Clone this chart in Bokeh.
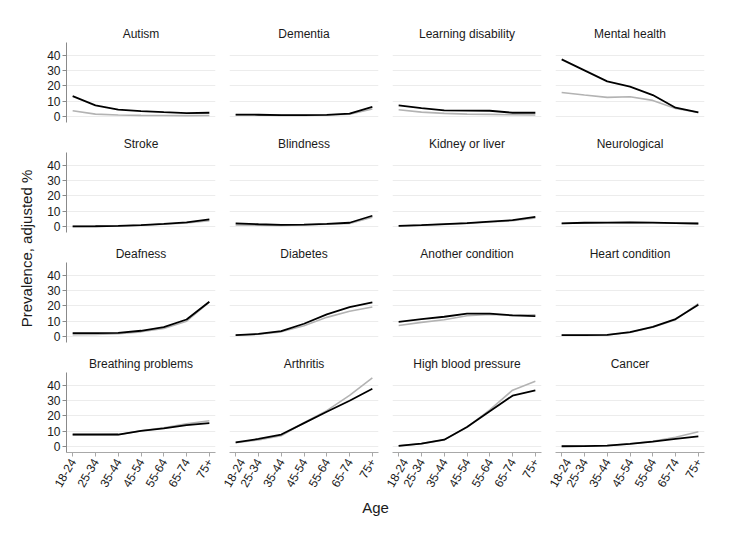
import math
from bokeh.plotting import figure
from bokeh.layouts import gridplot, row, column
from bokeh.models import Range1d, FixedTicker, Grid, Label
from bokeh.embed import file_html
from bokeh.resources import INLINE

ages = ["18-24", "25-34", "35-44", "45-54", "55-64", "65-74", "75+"]
conditions = ["Autism", "Dementia", "Learning disability", "Mental health",
              "Stroke", "Blindness", "Kidney or liver", "Neurological",
              "Deafness", "Diabetes", "Another condition", "Heart condition",
              "Breathing problems", "Arthritis", "High blood pressure", "Cancer"]

# black line
prev_a = [
    [13.3, 7.2, 4.4, 3.5, 2.8, 2.2, 2.4],
    [1.2, 1.1, 0.8, 0.8, 1.0, 1.8, 6.3],
    [7.2, 5.5, 3.9, 3.8, 3.7, 2.4, 2.4],
    [37.4, 30.2, 23.0, 19.5, 14.0, 5.7, 2.6],
    [0.0, 0.1, 0.4, 0.9, 1.7, 2.6, 4.6],
    [2.0, 1.4, 1.0, 1.2, 1.7, 2.4, 7.0],
    [0.4, 0.9, 1.5, 2.1, 3.2, 4.1, 6.3],
    [2.0, 2.4, 2.5, 2.7, 2.5, 2.2, 1.9],
    [2.2, 2.2, 2.3, 3.7, 6.1, 11.1, 22.7],
    [0.9, 1.6, 3.5, 8.3, 14.5, 19.2, 22.3],
    [9.6, 11.4, 12.9, 14.9, 14.9, 13.8, 13.3],
    [0.9, 0.9, 1.0, 2.8, 6.3, 11.4, 20.8],
    [7.8, 7.8, 7.8, 10.2, 11.8, 14.0, 15.3],
    [2.7, 4.9, 7.8, 15.3, 22.7, 30.0, 37.8],
    [0.4, 1.8, 4.4, 12.7, 23.1, 33.3, 36.7],
    [0.1, 0.2, 0.5, 1.6, 3.2, 5.0, 6.6],
]
# grey line
prev_b = [
    [3.7, 1.5, 0.9, 0.7, 0.6, 0.5, 0.6],
    [1.0, 0.9, 0.7, 0.7, 0.9, 1.4, 4.8],
    [4.4, 2.8, 2.0, 1.5, 1.3, 1.1, 0.9],
    [15.7, 14.0, 12.5, 12.9, 10.5, 5.2, 2.6],
    [0.0, 0.1, 0.3, 0.8, 1.4, 2.2, 3.8],
    [1.0, 0.8, 0.7, 0.9, 1.4, 2.0, 6.0],
    [0.3, 0.8, 1.3, 2.0, 2.9, 3.7, 5.5],
    [1.9, 2.3, 2.4, 2.6, 2.4, 2.1, 1.8],
    [1.2, 1.3, 1.7, 3.0, 5.2, 10.0, 22.5],
    [0.8, 1.4, 3.0, 7.0, 12.5, 16.5, 19.3],
    [7.2, 9.2, 10.9, 13.6, 14.4, 13.8, 14.2],
    [0.8, 0.8, 0.9, 2.6, 6.0, 11.0, 21.5],
    [7.6, 7.6, 7.7, 10.3, 12.2, 14.8, 16.8],
    [2.4, 4.3, 7.0, 15.5, 23.5, 33.5, 44.9],
    [0.4, 1.8, 4.3, 12.5, 24.0, 36.9, 42.7],
    [0.1, 0.2, 0.6, 1.7, 3.3, 6.0, 9.6],
]
yticks = [0, 10, 20, 30, 40]

FONT = "Liberation Sans"
xs = list(range(len(ages)))

plots = []
for k, name in enumerate(conditions):
    r, c = divmod(k, 4)
    first_col = c == 0
    last_row = r == 3
    top = 42 if r == 0 else 26
    bottom = 44 if last_row else 4
    w = 184 if first_col else 163
    p = figure(width=w, height=top + 80 + bottom, output_backend="svg", toolbar_location=None,
               x_range=Range1d(-0.27, 6.27), y_range=Range1d(-4, 48.5),
               x_axis_location="below" if last_row else None,
               y_axis_location="left" if first_col else None,
               min_border_left=28 if first_col else 7, min_border_right=7,
               min_border_top=top, min_border_bottom=bottom,
               title=name)
    p.outline_line_color = None
    p.title.align = "center"
    p.title.text_font = FONT
    p.title.text_font_size = "12px"
    p.title.text_font_style = "normal"
    p.title.text_color = "#1a1a1a"
    p.title.standoff = 3
    p.grid.visible = False
    p.add_layout(Grid(dimension=1, ticker=FixedTicker(ticks=yticks),
                      grid_line_color="#ececec", grid_line_width=1))
    if first_col:
        ax = p.yaxis[0]
        ax.ticker = FixedTicker(ticks=yticks)
        ax.axis_line_color = "#8a8a8a"
        ax.major_tick_line_color = "#8a8a8a"
        ax.major_tick_out = 4
        ax.major_tick_in = 0
        ax.minor_tick_line_color = None
        ax.major_label_standoff = 2
        ax.major_label_text_font = FONT
        ax.major_label_text_font_size = "12px"
        ax.major_label_text_color = "#1a1a1a"
    if last_row:
        ax = p.xaxis[0]
        ax.ticker = FixedTicker(ticks=xs)
        ax.major_label_overrides = {i: a for i, a in enumerate(ages)}
        ax.major_label_orientation = math.pi / 3
        ax.axis_line_color = "#a8a8a8"
        ax.major_tick_line_color = "#a8a8a8"
        ax.major_tick_out = 4
        ax.major_tick_in = 0
        ax.minor_tick_line_color = None
        ax.major_label_standoff = 3
        ax.major_label_text_font = FONT
        ax.major_label_text_font_size = "12px"
        ax.major_label_text_color = "#1a1a1a"
    p.line(xs, prev_b[k], line_color="#b3b3b3", line_width=1.6)
    p.line(xs, prev_a[k], line_color="#000000", line_width=1.8)
    plots.append(p)

grid = gridplot([plots[i:i + 4] for i in range(0, 16, 4)], toolbar_location=None)

ylab = figure(width=38, height=526, output_backend="svg", toolbar_location=None,
              x_range=Range1d(0, 1), y_range=Range1d(0, 1),
              x_axis_location=None, y_axis_location=None, min_border=0)
ylab.outline_line_color = None
ylab.grid.visible = False
ylab.add_layout(Label(x=26, y=278, x_units="screen", y_units="screen",
                      text="Prevalence, adjusted %", angle=math.pi / 2,
                      text_align="center", text_baseline="middle",
                      text_font=FONT, text_font_size="15px", text_color="#1a1a1a"))

xlab = figure(width=673, height=30, output_backend="svg", toolbar_location=None,
              x_range=Range1d(0, 1), y_range=Range1d(0, 1),
              x_axis_location=None, y_axis_location=None, min_border=0)
xlab.outline_line_color = None
xlab.grid.visible = False
xlab.add_layout(Label(x=337, y=19, x_units="screen", y_units="screen",
                      text="Age", text_align="center", text_baseline="middle",
                      text_font=FONT, text_font_size="15px", text_color="#1a1a1a"))

p = row(ylab, column(grid, xlab))
open("out.html", "w").write(file_html(p, INLINE))
